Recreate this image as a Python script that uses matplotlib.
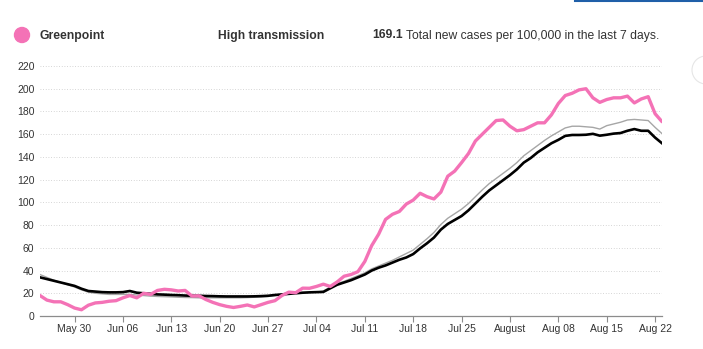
import numpy as np
import pandas as pd
import matplotlib
matplotlib.use("Agg")
import matplotlib.pyplot as plt
from matplotlib.patches import Circle
from matplotlib import font_manager

plt.rcParams['font.family'] = ['Liberation Sans', 'DejaVu Sans']

dates = pd.date_range("2021-05-25", "2021-08-23", freq="D")

greenpoint = [18, 14, 12.5, 12.5, 10, 7, 5.5, 9.5, 11.5, 12,
              13, 13.5, 16, 18, 16, 20, 19, 22.5, 23.5, 23,
              22, 22.5, 17.5, 17.8, 14.5, 12, 10, 8.5, 7.5, 8.5,
              9.7, 8, 10, 12, 13.5, 18, 21, 20.5, 24.5, 24.4,
              26, 28, 26, 30, 35, 36.5, 39, 48, 62, 72,
              85, 89.5, 92, 98.5, 102, 108, 105, 103, 109, 123,
              127.5, 135, 143, 154, 160, 166, 172, 172.5, 167, 163,
              164, 167, 170, 170, 177, 187, 194, 196, 199, 200,
              192, 188, 190.5, 192, 192, 193.5, 187.5, 191, 193, 178,
              171]

borough = [36.5, 34, 31.5, 29.5, 27.5, 25.5, 23, 21, 20, 19.5,
           19, 19, 19, 19, 18.5, 18, 17.5, 17.2, 17, 16.8,
           16.5, 16.3, 16.2, 16, 16, 16, 16, 16, 16, 16,
           16.2, 16.5, 16.8, 17.2, 18, 18.8, 19.5, 20, 20.5, 20.8,
           21, 22, 25.5, 28.5, 30.5, 33, 35.5, 38, 41.5, 44,
           46.5, 49, 52, 55, 58, 63, 68, 73.5, 80.5, 86,
           90, 94, 99, 105, 111, 116.5, 121, 125.5, 130, 135,
           141, 145.5, 150, 154.5, 158.5, 162, 165.5, 167, 167, 166.5,
           166, 164.5, 167.5, 169, 170.5, 172.5, 173, 172.5, 172, 166,
           160.5]

citywide = [34, 32.5, 31, 29.5, 28, 26.5, 24, 22, 21.5, 21,
            20.8, 20.8, 21, 22, 20.5, 20, 19.5, 19, 18.8, 18.5,
            18.3, 18, 17.8, 17.8, 17.6, 17.5, 17.3, 17.2, 17.2, 17.2,
            17.2, 17.3, 17.5, 17.8, 18.5, 19, 19.5, 20, 20.5, 20.8,
            21, 21.2, 24.4, 27.5, 29.5, 31.5, 34, 36.5, 40, 42.5,
            44.5, 47, 49.5, 51.5, 54.5, 59.5, 64, 69, 76, 81,
            84.5, 88, 93, 99, 105, 110.5, 115, 119.5, 124, 129,
            135, 139, 144, 148, 152, 155, 158.5, 159.3, 159.3, 159.5,
            160.3, 158.7, 159.5, 160.5, 161, 163, 164.5, 163, 163, 157,
            152]

tick_dates = ["2021-05-30", "2021-06-06", "2021-06-13", "2021-06-20", "2021-06-27",
              "2021-07-04", "2021-07-11", "2021-07-18", "2021-07-25", "2021-08-01",
              "2021-08-08", "2021-08-15", "2021-08-22"]
tick_labels = ["May 30", "Jun 06", "Jun 13", "Jun 20", "Jun 27", "Jul 04", "Jul 11",
               "Jul 18", "Jul 25", "August", "Aug 08", "Aug 15", "Aug 22"]
y_ticks = [0, 20, 40, 60, 80, 100, 120, 140, 160, 180, 200, 220]

header_name = "Greenpoint"
header_level = "High transmission"
header_value = "169.1"
header_desc = "Total new cases per 100,000 in the last 7 days."

PINK = "#f472b6"

installed = {f.name for f in font_manager.fontManager.ttflist}
narrow = 'Liberation Sans Narrow' in installed
HEAD_FONT = ['Liberation Sans Narrow', 'Liberation Sans', 'DejaVu Sans'] \
    if narrow else ['Liberation Sans', 'DejaVu Sans']
hsize = 10.3 if narrow else 8.7

fig = plt.figure(figsize=(7.03, 3.49), dpi=100)
ax = fig.add_axes([40 / 703, 33 / 349, 622 / 703, 250 / 349])

ax.plot(dates, borough, color="#a6a6a6", lw=1.0, zorder=3)
ax.plot(dates, citywide, color="#000000", lw=1.9, zorder=4)
ax.plot(dates, greenpoint, color=PINK, lw=2.4, zorder=5, solid_capstyle="round",
        solid_joinstyle="round")

ax.set_xlim(dates[0], dates[-1])
ax.set_ylim(0, 220)
ax.set_yticks(y_ticks)
ax.set_yticklabels([str(v) for v in y_ticks])
ax.set_xticks(pd.to_datetime(tick_dates))
ax.set_xticklabels(tick_labels)

ax.grid(axis="y", color="#c8c8c8", linestyle=(0, (1, 2.2)), linewidth=0.6)
ax.set_axisbelow(True)
for s in ["left", "right", "top"]:
    ax.spines[s].set_visible(False)
ax.spines["bottom"].set_color("#8c8c8c")
ax.spines["bottom"].set_linewidth(0.9)
ax.tick_params(axis="y", length=0, pad=4, labelsize=7.5, labelcolor="#333333")
ax.tick_params(axis="x", length=4, width=0.8, color="#8c8c8c", pad=2,
               labelsize=7.5, labelcolor="#333333")

# header
ytxt = 1 - 35.5 / 349
circ = Circle((22, 349 - 35), 7.5, transform=None, color=PINK, zorder=10)
fig.patches.append(circ)
fig.text(40 / 703, ytxt, header_name, fontsize=hsize, fontweight="bold",
         color="#333333", va="center", ha="left", family=HEAD_FONT)
fig.text(218 / 703, ytxt, header_level, fontsize=hsize, fontweight="bold",
         color="#333333", va="center", ha="left", family=HEAD_FONT)
t1 = fig.text(372 / 703, ytxt, header_value, fontsize=hsize, fontweight="bold",
              color="#333333", va="center", ha="left", family=HEAD_FONT)
renderer = fig.canvas.get_renderer()
bb = t1.get_window_extent(renderer)
fig.text((bb.x1 + 3.5) / 703, ytxt, header_desc, fontsize=hsize, color="#333333",
         va="center", ha="left", family=HEAD_FONT)

# decorations at the top right
fig.add_artist(plt.Line2D([575 / 703, 1.0], [1 - 1 / 349, 1 - 1 / 349],
                          transform=fig.transFigure, color="#1f5fa8", lw=1.5))
btn = Circle((706, 349 - 70), 14, transform=None, facecolor="white",
             edgecolor="#e6e6e6", lw=0.8, zorder=10)
fig.patches.append(btn)
fig.text(696 / 703, 1 - 70 / 349, "••", fontsize=5, color="#bbbbbb",
         va="center", ha="left")

fig.savefig("out.png", dpi=100)
